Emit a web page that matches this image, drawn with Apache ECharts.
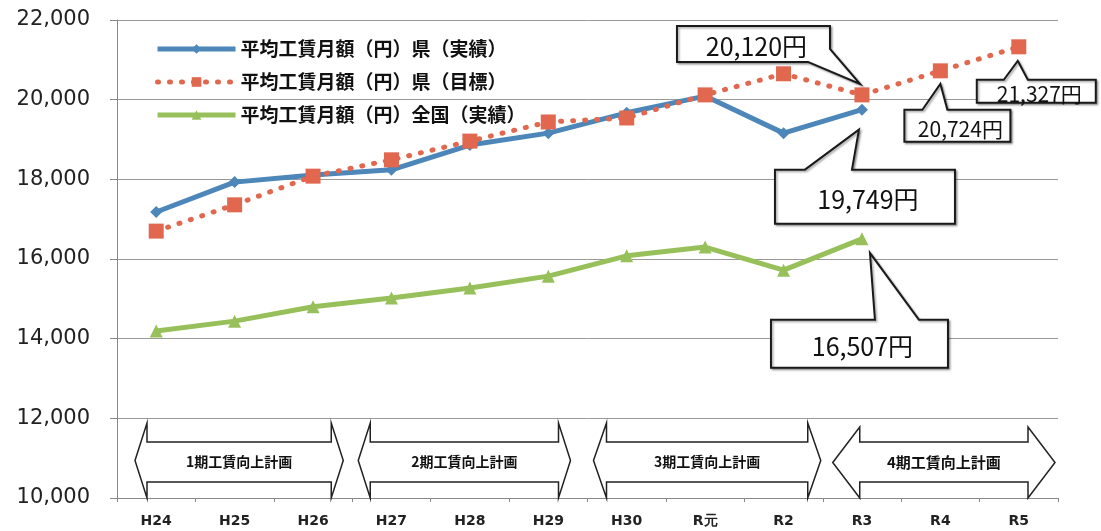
<!DOCTYPE html>
<html><head><meta charset="utf-8">
<script src="https://cdn.jsdelivr.net/npm/echarts@6/dist/echarts.min.js"></script>
<style>html,body{margin:0;padding:0;background:#fff}#c{width:1101px;height:531px}</style>
</head><body><div id="c"></div>
<script>
// ---- data ----
const categories = ['H24','H25','H26','H27','H28','H29','H30','R元','R2','R3','R4','R5'];
const prefActual = [17180,17930,18110,18240,18860,19160,19670,20090,19160,19749,null,null];
const prefTarget = [16700,17360,18080,18490,18960,19440,19540,20120,20650,20120,20724,21327];
const nationalActual = [14190,14440,14800,15020,15270,15570,16080,16300,15720,16507,null,null];
const seriesNames = ['平均工賃月額（円）県（実績）','平均工賃月額（円）県（目標）','平均工賃月額（円）全国（実績）'];
const yMin = 10000, yMax = 22000, yStep = 2000;
const planLabels = ['1期工賃向上計画','2期工賃向上計画','3期工賃向上計画','4期工賃向上計画'];
const planFrom = [0,3,6,9];
const planTo = [2,5,8,11];
const calloutSeries = [1,0,2,1,1];
const calloutIndex = [9,9,9,10,11];
const calloutText = ['20,120円','19,749円','16,507円','20,724円','21,327円'];

// ---- layout / style ----
const colors = ['#4d86b8','#e2674f','#98c05a'];
const calloutLayout = [
  {kind:'corner', tip:[-2,-11], box:[-185,-69,-32,-33], font:25},
  {kind:'top', tip:[-3,20], box:[-87,60,93,114], wedge:[-57,-10], font:25},
  {kind:'top', tip:[8,14], box:[-91,81,86,129], wedge:[13,57], font:25},
  {kind:'top', tip:[0,13], box:[-36,39,70,71], wedge:[-18,7], font:21},
  {kind:'top', tip:[-1,14], box:[-42,33,77,56], wedge:[-15,9], font:21}
];
const arrowInset = [[18,9],[6,17],[6,2],[10,3]];
const arrowHead = [12,12,13,27];
const arrowFont = [14,14,14,15];

const chart = echarts.init(document.getElementById('c'));
const allSeries = [prefActual, prefTarget, nationalActual];
const option = {
  animation:false,
  backgroundColor:'#fff',
  grid:{left:117, right:43, top:20, bottom:33},
  legend:{
    orient:'vertical', left:150, top:34, itemWidth:78, itemHeight:12, itemGap:13,
    lineStyle:{width:5},
    textStyle:{fontFamily:'Noto Sans CJK JP', fontSize:19, fontWeight:'bold', color:'#111', lineHeight:20},
    data:seriesNames
  },
  xAxis:{
    type:'category', data:categories, boundaryGap:true,
    axisLine:{lineStyle:{color:'#888', width:1}},
    axisTick:{show:true, length:4, lineStyle:{color:'#888'}},
    axisLabel:{fontFamily:'DejaVu Sans', fontWeight:'bold', fontSize:14, color:'#222', margin:16}
  },
  yAxis:{
    type:'value', min:yMin, max:yMax, interval:yStep,
    axisLine:{show:true, lineStyle:{color:'#888'}},
    axisTick:{show:true, length:7, lineStyle:{color:'#888'}},
    splitLine:{lineStyle:{color:'#999', width:1}},
    axisLabel:{fontFamily:'DejaVu Sans', fontSize:21, color:'#222', margin:27,
      formatter:v=>v.toLocaleString('en-US')}
  },
  series:[
    {name:seriesNames[0], type:'line', data:prefActual, color:colors[0], symbol:'diamond', symbolSize:12,
      lineStyle:{width:5, color:colors[0]}, itemStyle:{color:colors[0]}, z:2},
    {name:seriesNames[1], type:'line', data:prefTarget, color:colors[1], symbol:'rect', symbolSize:15,
      lineStyle:{width:5, color:colors[1], type:[1,11], cap:'round'}, itemStyle:{color:colors[1]}, z:3},
    {name:seriesNames[2], type:'line', data:nationalActual, color:colors[2], symbol:'triangle', symbolSize:13,
      lineStyle:{width:5, color:colors[2]}, itemStyle:{color:colors[2]}, z:2}
  ]
};
chart.setOption(option);

function px(i, v){ return chart.convertToPixel({gridIndex:0}, [i, v]); }
const graphics = [];
// callouts
calloutLayout.forEach((L, k) => {
  const s = calloutSeries[k], i = calloutIndex[k];
  const p = px(i, allSeries[s][i]);
  const bx = [p[0]+L.box[0], p[1]+L.box[1], p[0]+L.box[2], p[1]+L.box[3]];
  const tip = [p[0]+L.tip[0], p[1]+L.tip[1]];
  let pts;
  if (L.kind === 'top') {
    pts = [[bx[0],bx[1]],[p[0]+L.wedge[0],bx[1]],tip,[p[0]+L.wedge[1],bx[1]],[bx[2],bx[1]],[bx[2],bx[3]],[bx[0],bx[3]]];
  } else {
    pts = [[bx[0],bx[1]],[bx[2],bx[1]],[bx[2],bx[3]-13],tip,[bx[2]-22,bx[3]],[bx[0],bx[3]]];
  }
  graphics.push({type:'polygon', z:100, shape:{points:pts},
    style:{fill:'#fff', stroke:'#1a1a1a', lineWidth:2, shadowBlur:2, shadowColor:'rgba(0,0,0,0.35)', shadowOffsetX:1.5, shadowOffsetY:1.5}});
  graphics.push({type:'text', z:101, style:{text:calloutText[k], x:(bx[0]+bx[2])/2+3, y:(bx[1]+bx[3])/2+3,
    textAlign:'center', textVerticalAlign:'middle', align:'center', verticalAlign:'middle',
    font:L.font+'px "Noto Sans CJK JP"', fill:'#111'}});
});
// plan arrows
const half = (px(1,yMin)[0]-px(0,yMin)[0])/2;
const base = px(0, yMin)[1];
planLabels.forEach((lab, k) => {
  const xl = px(planFrom[k], yMin)[0]-half+arrowInset[k][0];
  const xr = px(planTo[k], yMin)[0]+half-arrowInset[k][1];
  const hw = arrowHead[k];
  const headTop = base-(k===3?71:75), headBot = base, sTop = base-56, sBot = base-16;
  const cy = (headTop+headBot)/2;
  const pts = [[xl,cy],[xl+hw,headTop],[xl+hw,sTop],[xr-hw,sTop],[xr-hw,headTop],[xr,cy],
    [xr-hw,headBot],[xr-hw,sBot],[xl+hw,sBot],[xl+hw,headBot]];
  graphics.push({type:'polygon', z:50, shape:{points:pts}, style:{fill:'#fff', stroke:'#222', lineWidth:1.5}});
  graphics.push({type:'text', z:51, style:{text:lab, x:(xl+xr)/2, y:(sTop+sBot)/2,
    textAlign:'center', textVerticalAlign:'middle', align:'center', verticalAlign:'middle',
    font:'bold '+arrowFont[k]+'px "Noto Sans CJK JP"', fill:'#111'}});
});
chart.setOption({graphic:graphics});
</script>
</body></html>
